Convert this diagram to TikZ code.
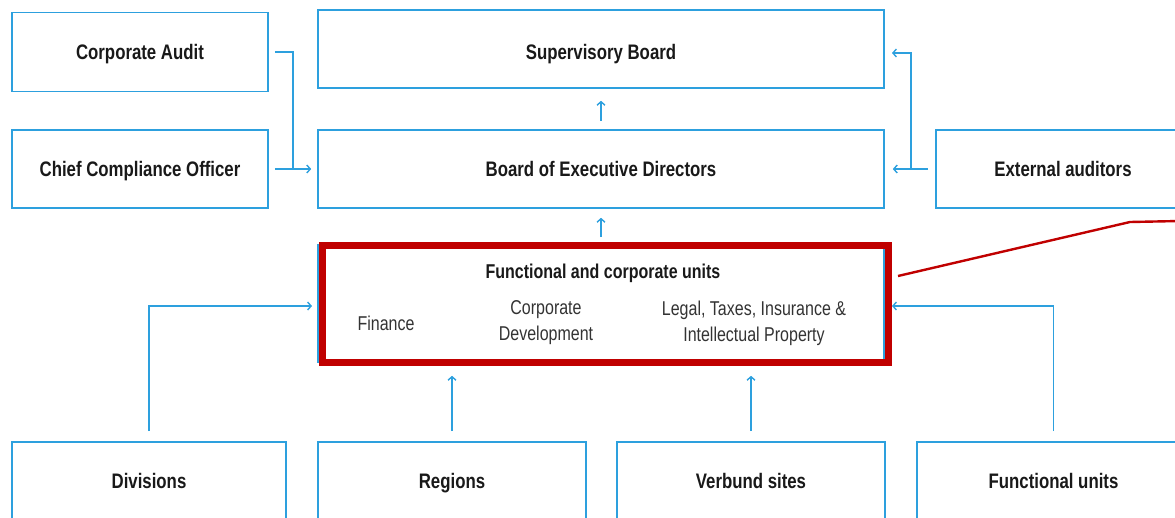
\documentclass[tikz,border=0pt]{standalone}
\usepackage{fontspec}
\setmainfont{Liberation Sans}[FakeStretch=0.8]
\usetikzlibrary{arrows.meta}
\definecolor{lineblue}{RGB}{45,160,222}
\definecolor{callred}{RGB}{192,0,0}
\begin{document}
\begin{tikzpicture}[x=1pt,y=-1pt,
  box/.style={draw=lineblue,line width=1.6pt,inner sep=0pt,
    text height=15pt,text depth=0pt,
    font=\fontsize{21}{24}\selectfont\bfseries,text=black!90},
  unit/.style={font=\fontsize{20}{26}\selectfont,text=black!80,align=center,inner sep=0pt},
  conn/.style={draw=lineblue,line width=1.4pt},
  arr/.style={conn,-{Straight Barb[length=3.5pt,width=8pt,line width=1.4pt]}},
  callout/.style={draw=callred,line width=2.4pt}]
\useasboundingbox (0,0) rectangle (1175,517);

% top row
\node[box,minimum width=256,minimum height=79] (ca) at (140,52) {Corporate Audit};
\node[box,minimum width=566,minimum height=78,text height=20pt] (sb) at (601,49) {Supervisory Board};
\node[box,minimum width=256,minimum height=78] (cco) at (140,169) {Chief Compliance Officer};
\node[box,minimum width=566,minimum height=78] (bed) at (601,169) {Board of Executive Directors};
\node[box,minimum width=254,minimum height=78] (ext) at (1063,169) {External auditors};

% functional and corporate units
\node[box,minimum width=566,minimum height=117] (fcu) at (601,303.5) {};
\node[font=\fontsize{20}{24}\selectfont\bfseries,text=black!90,inner sep=0pt,
  text height=14pt,text depth=0pt] (fcut) at (603,271) {Functional and corporate units};
\node[unit] (fin) at (386,323) {Finance};
\node[unit] (cdev) at (546,323) {Corporate\\Development};
\node[unit] (legal) at (754,323) {Legal, Taxes, Insurance \&\\Intellectual Property};
\draw[draw=callred,line width=7pt] (322,245) rectangle (888,362);

% bottom row
\node[box,minimum width=274,minimum height=78] (div) at (149,481) {Divisions};
\node[box,minimum width=268,minimum height=78] (reg) at (452,481) {Regions};
\node[box,minimum width=268,minimum height=78] (verb) at (751,481) {Verbund sites};
\node[box,minimum width=273,minimum height=78] (fu) at (1053.5,481) {Functional units};

% reporting lines
\coordinate (jca) at (293,169);
\draw[conn] ([xshift=6pt]ca.east) -| (jca);
\draw[arr,shorten <=6pt,shorten >=6pt] (cco.east) -- (bed.west);
\draw[arr,shorten <=8pt,shorten >=12pt] (bed.north) -- (sb.south);
\draw[arr,shorten <=7pt,shorten >=9pt] (fcu.north) -- (bed.south);

\coordinate (jext) at (911,169);
\draw[arr,shorten <=7pt,shorten >=8pt] (ext.west) -- (bed.east);
\coordinate (sbin) at (892,53);
\draw[arr] (jext) |- (sbin);

\coordinate (fcuinl) at (312,306);
\coordinate (fcuinr) at (892,306);
\draw[arr,shorten <=10pt] (div.north) |- (fcuinl);
\draw[arr,shorten <=10pt] (fu.north) |- (fcuinr);
\draw[arr,shorten <=10pt,shorten >=13pt] (reg.north) -- (reg.north |- fcu.south);
\draw[arr,shorten <=10pt,shorten >=13pt] (verb.north) -- (verb.north |- fcu.south);

% callout line
\coordinate (c0) at (898,276);
\coordinate (c1) at (1130,222);
\coordinate (c2) at (1180,221);
\draw[callout] (c0) -- (c1) -- (c2);
\end{tikzpicture}
\end{document}
